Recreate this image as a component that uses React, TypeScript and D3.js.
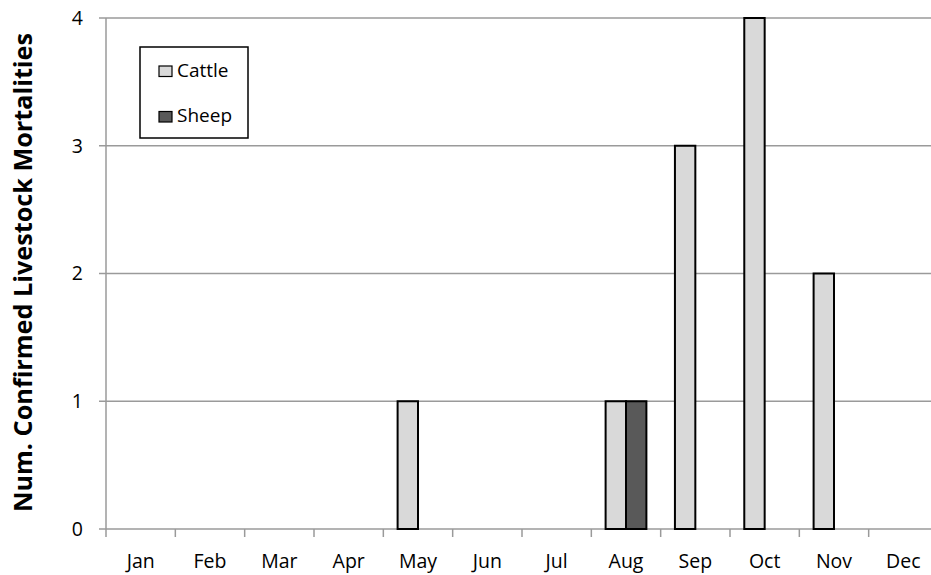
import React from "react";
import * as d3 from "d3";

// Monthly confirmed livestock mortalities
const months = ["Jan", "Feb", "Mar", "Apr", "May", "Jun", "Jul", "Aug", "Sep", "Oct", "Nov", "Dec"];
const seriesNames = ["Cattle", "Sheep"];
const cattle = [0, 0, 0, 0, 1, 0, 0, 1, 3, 4, 2, 0];
const sheep = [0, 0, 0, 0, 0, 0, 0, 1, 0, 0, 0, 0];
const yTicks = [0, 1, 2, 3, 4];

const W = 931;
const H = 575;
const left = 106;
const right = 938;
const top = 18;
const bottom = 529;
const FONT = "'Open Sans', 'Liberation Sans', sans-serif";
const fills: Record<string, string> = { Cattle: "#d9d9d9", Sheep: "#595959" };

export default function App() {
  const x = d3.scaleBand<string>().domain(months).range([left, right]).paddingInner(0).paddingOuter(0);
  const step = x.step();
  const groupW = step / 1.7;
  const inner = d3
    .scaleBand<string>()
    .domain(seriesNames)
    .range([(step - groupW) / 2, (step + groupW) / 2]);
  const y = d3.scaleLinear().domain([0, 4]).range([bottom, top]);

  const rows = months.map((m, i) => ({ month: m, Cattle: cattle[i], Sheep: sheep[i] }));
  const boundaries = d3.range(months.length + 1).map((i) => left + i * step);

  return (
    <svg
      width={W}
      height={H}
      style={{ position: "absolute", left: 0, top: 0, background: "#fff" }}
      fontFamily={FONT}
    >
      {/* horizontal gridlines */}
      {yTicks.map((t) => (
        <line key={"g" + t} x1={left - 7} x2={W} y1={y(t)} y2={y(t)} stroke="#9a9a9a" strokeWidth={1.5} />
      ))}
      {/* y axis line */}
      <line x1={left} x2={left} y1={top} y2={bottom} stroke="#9a9a9a" strokeWidth={1.5} />
      {/* x tick marks at category boundaries */}
      {boundaries.map((bx, i) => (
        <line key={"xt" + i} x1={bx} x2={bx} y1={bottom} y2={bottom + 8} stroke="#9a9a9a" strokeWidth={1.5} />
      ))}
      {/* y tick labels */}
      {yTicks.map((t) => (
        <text key={"yl" + t} x={83} y={y(t)} dy="0.35em" textAnchor="end" fontSize={19.5} fill="#000">
          {t}
        </text>
      ))}
      {/* month labels */}
      {months.map((m) => (
        <text key={m} x={(x(m) as number) + step / 2} y={568} textAnchor="middle" fontSize={19.5} fill="#000">
          {m}
        </text>
      ))}
      {/* bars */}
      {rows.map((r) =>
        seriesNames.map((s) => {
          const v = (r as any)[s] as number;
          if (!v) return null;
          const bx = (x(r.month) as number) + (inner(s) as number);
          return (
            <rect
              key={r.month + s}
              x={bx}
              y={y(v)}
              width={inner.bandwidth()}
              height={y(0) - y(v)}
              fill={fills[s]}
              stroke="#000"
              strokeWidth={2}
            />
          );
        })
      )}
      {/* y axis title */}
      <text
        transform={`translate(32, 272.5) rotate(-90)`}
        textAnchor="middle"
        fontSize={25}
        fontWeight="bold"
        fill="#000"
        textLength={479}
        lengthAdjust="spacingAndGlyphs"
      >
        Num. Confirmed Livestock Mortalities
      </text>
      {/* legend */}
      <g>
        <rect x={140} y={47} width={108} height={91} fill="#fff" stroke="#000" strokeWidth={1.5} />
        {seriesNames.map((s, i) => (
          <g key={"lg" + s} transform={`translate(159, ${66 + i * 45.5})`}>
            <rect x={0} y={0} width={13} height={10.5} fill={fills[s]} stroke="#000" strokeWidth={1.2} />
            <text x={18} y={10.5} fontSize={19} fill="#000">
              {s}
            </text>
          </g>
        ))}
      </g>
    </svg>
  );
}
